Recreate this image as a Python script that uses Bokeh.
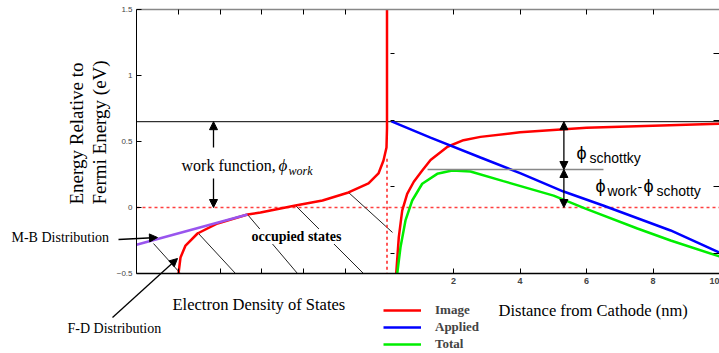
from bokeh.plotting import figure
from bokeh.models import (Range1d, LinearAxis, FixedTicker, CustomJSTickFormatter, Label,
                          Arrow, NormalHead, Legend, LegendItem)
from bokeh.embed import file_html
from bokeh.resources import INLINE

# ---------------- data ----------------
# Left panel: electron density of states (arb. units) vs energy (eV)
fd_dos = [1.006, 1.054, 1.174, 1.461, 1.940, 2.659, 2.970, 3.808, 4.455, 5.078, 5.557, 5.796, 5.916, 5.988, 6.0, 6.0]
fd_energy = [-0.5, -0.379, -0.288, -0.197, -0.121, -0.053, -0.038, 0.015, 0.053, 0.114, 0.182, 0.258, 0.356, 0.455, 0.6, 1.5]
mb_dos = [0.0, 2.659]
mb_energy = [-0.282, -0.053]
hatch_dos0 = [0.407, 1.461, 2.659, 3.808, 5.078]
hatch_e0 = [-0.273, -0.189, -0.053, 0.015, 0.114]
hatch_dos1 = [1.054, 2.371, 3.856, 5.437, 6.132]
hatch_e1 = [-0.5, -0.5, -0.5, -0.5, -0.189]
surface_dos = 6.0
surface_dotted_top = 0.37

# Right panel: potential vs distance from cathode (nm)
image_z = [0.277, 0.355, 0.457, 0.607, 0.806, 1.06, 1.31, 1.82, 2.3, 2.81, 4.0, 6.0, 8.0, 10.0]
image_e = [-0.5, -0.225, -0.023, 0.104, 0.195, 0.28, 0.36, 0.46, 0.51, 0.535, 0.57, 0.605, 0.62, 0.635]
applied_z = [0.135, 1.308, 2.81, 4.02, 5.31, 6.5, 8.53, 10.0]
applied_e = [0.652, 0.53, 0.379, 0.258, 0.121, 0.015, -0.174, -0.341]
total_z = [0.307, 0.406, 0.556, 0.758, 1.059, 1.51, 1.96, 2.51, 3.5, 5.01, 5.97, 7.53, 8.53, 10.0]
total_e = [-0.502, -0.301, -0.098, 0.053, 0.18, 0.255, 0.28, 0.273, 0.2, 0.09, -0.008, -0.159, -0.25, -0.371]

work_level = 0.65
fermi_level = 0.0
barrier_top = 0.288
barrier_z = [1.22, 6.51]
schottky_arrow_z = 5.32

energy_ticks = [-0.5, 0, 0.5, 1, 1.5]
dos_ticks = [1, 2, 3, 4, 5]
dist_ticks = [2, 4, 6, 8, 10]
panel_right_ticks = [1.167, 0.659, 0.159, -0.348]

E_MIN, E_MAX = -0.5, 1.5
DOS_MAX = 6.0

# ---------------- ranges (frame = whole canvas) ----------------
W, H = 719, 353
X0_PX, D_PX = 136.0, 41.75      # dos -> pixel
Z0_PX, Z_PX = 386.5, 33.25      # distance -> pixel
E0_PX, E_PX = 207.0, 132.0      # energy -> pixel (from top)

d_range = Range1d(-X0_PX / D_PX, (W - X0_PX) / D_PX)
z_range = Range1d(-Z0_PX / Z_PX, (W - Z0_PX) / Z_PX)
e_range = Range1d((E0_PX - H) / E_PX, E0_PX / E_PX)


def dos_to_z(d):
    return (X0_PX + d * D_PX - Z0_PX) / Z_PX


def z_to_dos(z):
    return (Z0_PX + z * Z_PX - X0_PX) / D_PX


def px_d(px):
    return (px - X0_PX) / D_PX


def py_e(py):
    return (E0_PX - py) / E_PX


p = figure(width=W, height=H, x_range=d_range, y_range=e_range,
           output_backend="svg", toolbar_location=None,
           x_axis_location=None, y_axis_location=None, min_border=0)
p.extra_x_ranges = {"dist": z_range}
p.grid.visible = False
p.outline_line_color = None
p.background_fill_color = "white"
p.border_fill_color = "white"

blank = CustomJSTickFormatter(code="return '';")

yax = LinearAxis(ticker=FixedTicker(ticks=energy_ticks), fixed_location=0, bounds=(E_MIN, E_MAX))
yax.major_tick_in = 5
yax.major_tick_out = 0
yax.minor_tick_line_color = None
yax.major_label_standoff = 4
yax.major_label_text_font = "Liberation Sans"
yax.major_label_text_font_size = "8px"
yax.axis_line_color = "black"
p.add_layout(yax, "left")

all_ticks_z = [dos_to_z(d) for d in dos_ticks] + dist_ticks
xax = LinearAxis(x_range_name="dist", ticker=FixedTicker(ticks=all_ticks_z),
                 fixed_location=E_MIN, bounds=(dos_to_z(0), z_range.end),
                 formatter=CustomJSTickFormatter(code="return tick > 0.5 ? tick.toFixed(0) : '';"))
xax.major_tick_in = 5
xax.major_tick_out = 0
xax.minor_tick_line_color = None
xax.major_label_standoff = 4
xax.major_label_text_font = "Liberation Sans"
xax.major_label_text_font_style = "bold"
xax.major_label_text_font_size = "9px"
xax.axis_line_width = 1.5
p.add_layout(xax, "below")

top = LinearAxis(x_range_name="dist", ticker=FixedTicker(ticks=all_ticks_z), formatter=blank,
                 fixed_location=E_MAX, bounds=(dos_to_z(0), z_range.end))
top.major_tick_in = 5
top.major_tick_out = 0
top.minor_tick_line_color = None
top.axis_line_color = "#888888"
top.axis_line_width = 1.5
p.add_layout(top, "above")

for loc, tin in ((0.12, 4), (z_range.end, 6)):
    ax = LinearAxis(x_range_name="dist", ticker=FixedTicker(ticks=panel_right_ticks), formatter=blank,
                    fixed_location=loc, bounds=(E_MIN, E_MAX))
    ax.major_tick_in = tin
    ax.major_tick_out = 0
    ax.minor_tick_line_color = None
    ax.axis_line_color = None
    p.add_layout(ax, "left" if loc < 1 else "right")

# reference levels
p.segment(x0=[0], y0=[work_level], x1=[d_range.end], y1=[work_level], line_color="black", line_width=1)
p.segment(x0=[0], y0=[fermi_level], x1=[d_range.end], y1=[fermi_level], line_color="#ff4040",
          line_width=1.5, line_dash="3 3")

# hatching for occupied states
p.segment(x0=hatch_dos0, y0=hatch_e0, x1=hatch_dos1, y1=hatch_e1, line_color="#222222", line_width=1)

# dotted surface line
p.segment(x0=[surface_dos], y0=[surface_dotted_top], x1=[surface_dos], y1=[E_MIN],
          line_color="#ff2020", line_width=1.5, line_dash="3 3")

# left panel curves
p.line(fd_dos, fd_energy, line_color="#ff0000", line_width=2.5)
p.line(mb_dos, mb_energy, line_color="#9955ee", line_width=2.5)

# right panel curves
r_img = p.line(image_z, image_e, x_range_name="dist", line_color="#ff0000", line_width=2.5)
r_app = p.line(applied_z, applied_e, x_range_name="dist", line_color="#0000ff", line_width=2.5)
r_tot = p.line(total_z, total_e, x_range_name="dist", line_color="#00ee00", line_width=2.5)

p.segment(x0=[barrier_z[0]], y0=[barrier_top], x1=[barrier_z[1]], y1=[barrier_top],
          x_range_name="dist", line_color="#888888", line_width=1.5)


# arrows
def arrow(x0, y0, x1, y1, rng="default", both=False):
    a = Arrow(x_start=x0, y_start=y0, x_end=x1, y_end=y1, line_color="black", line_width=1.3,
              end=NormalHead(size=8, fill_color="black", line_color="black"),
              start=NormalHead(size=8, fill_color="black", line_color="black") if both else None,
              x_range_name=rng)
    p.add_layout(a)


wf_d = px_d(213)
arrow(wf_d, py_e(147), wf_d, work_level)
arrow(wf_d, py_e(178), wf_d, fermi_level)
arrow(schottky_arrow_z, work_level, schottky_arrow_z, barrier_top, rng="dist", both=True)
arrow(schottky_arrow_z, barrier_top, schottky_arrow_z, fermi_level, rng="dist", both=True)
arrow(px_d(118), py_e(239), px_d(157), py_e(237))
arrow(px_d(112), py_e(317), px_d(177), py_e(258))


# labels
def lab(text, px, py, size, font="Liberation Serif", style="normal", align="left", angle=0, bg=None):
    l = Label(x=px_d(px), y=py_e(py), text=text, text_font=font, text_font_size=size,
              text_font_style=style, text_align=align, text_baseline="middle",
              angle=angle, angle_units="deg", text_color="black",
              background_fill_color=bg)
    p.add_layout(l)


lab("Energy Relative to", 76, 133, "19px", align="center", angle=90)
lab("Fermi Energy (eV)", 99, 132, "19px", align="center", angle=90)
lab("work function,", 181, 165, "16px")
lab("\u03d5", 278, 165, "17px", style="italic")
lab("work", 288, 170, "12px", style="italic")
lab("occupied states", 251, 236, "14px", style="bold", bg="white")
lab("M-B Distribution", 11, 237, "14px")
lab("F-D Distribution", 67, 328, "14px")
lab("Electron Density of States", 172, 304, "16.5px")
lab("Distance from Cathode (nm)", 498, 310, "16.5px")
lab("\u03d5", 576, 152, "18px", font="Liberation Sans")
lab("schottky", 589, 157, "14px", font="Liberation Sans")
lab("\u03d5", 595, 185, "18px", font="Liberation Sans")
lab("work", 607, 190, "14px", font="Liberation Sans")
lab("-", 637, 186, "14px", font="Liberation Sans")
lab("\u03d5", 643, 185, "18px", font="Liberation Sans")
lab("schotty", 656, 190, "14px", font="Liberation Sans")

legend = Legend(items=[LegendItem(label="Image", renderers=[r_img]),
                       LegendItem(label="Applied", renderers=[r_app]),
                       LegendItem(label="Total", renderers=[r_tot])],
                location=(383, 1), orientation="vertical")
legend.label_text_font = "Liberation Serif"
legend.label_text_font_style = "bold"
legend.label_text_font_size = "13px"
legend.glyph_width = 38
legend.glyph_height = 14
legend.label_height = 14
legend.label_standoff = 14
legend.spacing = 1
legend.padding = 0
legend.margin = 0
legend.border_line_color = None
legend.background_fill_alpha = 0
p.add_layout(legend)

open("out.html", "w").write(file_html(p, INLINE))
